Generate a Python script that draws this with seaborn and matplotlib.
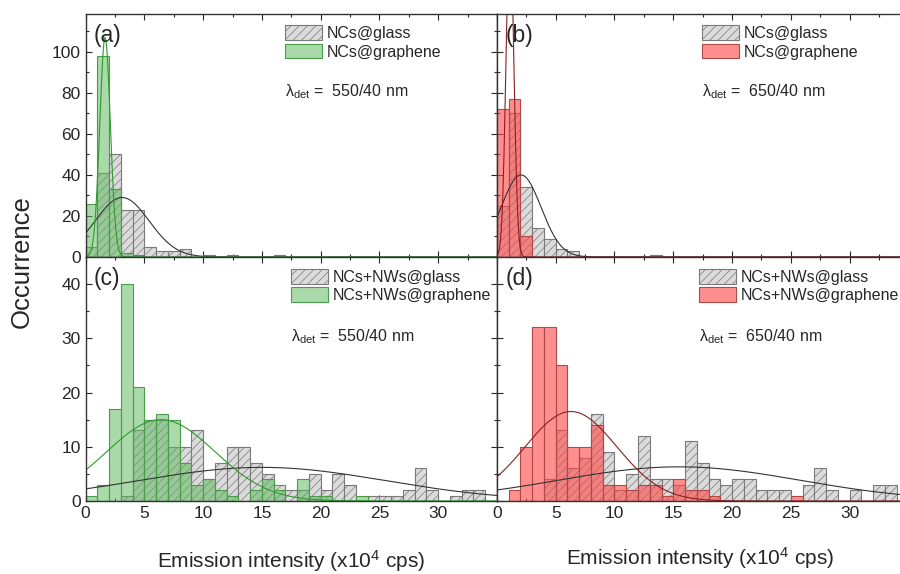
import numpy as np
import pandas as pd
import seaborn as sns
import matplotlib.pyplot as plt
from matplotlib.patches import Patch
from matplotlib.ticker import MultipleLocator

# bin counts, bins of width 1 (x10^4 cps) starting at 0
a_glass = [5, 41, 50, 23, 23, 5, 3, 3, 4, 0, 1, 0, 1, 0, 0, 0, 1]
a_graphene = [26, 98, 33, 2, 1]
b_glass = [25, 70, 34, 14, 9, 4, 3, 0, 0, 0, 0, 0, 0, 1]
b_graphene = [72, 77, 10]
c_glass = [0, 0, 0, 1, 13, 15, 15, 10, 10, 13, 4, 7, 10, 10, 7, 5, 3, 2, 2, 5,
           2, 5, 3, 0, 1, 1, 1, 2, 6, 2, 0, 1, 2, 2]
c_graphene = [1, 3, 17, 40, 21, 15, 16, 15, 7, 3, 4, 2, 1, 0, 2, 4, 2, 0, 4, 1,
              1, 0, 0, 1]
d_glass = [0, 0, 0, 0, 4, 13, 6, 8, 16, 9, 2, 5, 12, 4, 4, 3, 11, 7, 4, 3,
           4, 4, 2, 2, 2, 0, 3, 6, 2, 0, 2, 0, 3, 3]
d_graphene = [0, 2, 10, 32, 32, 25, 10, 10, 14, 3, 3, 2, 3, 3, 1, 4, 2, 2, 1, 0,
              0, 0, 0, 0, 0, 1]

# gaussian fit parameters: (amplitude, centre, sigma)
a_fit_glass = (29, 3.1, 2.3)
a_fit_graphene = (107, 1.65, 0.45)
b_fit_glass = (40, 2.05, 1.7)
b_fit_graphene = (160, 1.1, 0.33)
c_fit_glass = (6.2, 15.0, 10.5)
c_fit_graphene = (15, 6.4, 4.6)
d_fit_glass = (6.3, 15.5, 10.3)
d_fit_graphene = (16.5, 6.3, 3.9)

panel_labels = ['(a)', '(b)', '(c)', '(d)']
glass_names = ['NCs@glass', 'NCs@glass', 'NCs+NWs@glass', 'NCs+NWs@glass']
graphene_names = ['NCs@graphene', 'NCs@graphene', 'NCs+NWs@graphene', 'NCs+NWs@graphene']
detection = ['550/40 nm', '650/40 nm', '550/40 nm', '650/40 nm']

GREEN = (0.36, 0.72, 0.36, 0.52)
GREEN_EDGE = '#4a9c4a'
GREEN_LINE = '#2e9a2e'
RED = (1.0, 0.27, 0.27, 0.6)
RED_EDGE = '#b04848'
RED_LINE = '#8b1f1f'
GRAY = (0.86, 0.86, 0.86, 1.0)
GRAY_EDGE = '#7a7a7a'

sns.set_style('ticks')
plt.rcParams['font.family'] = ['Liberation Sans', 'DejaVu Sans']
plt.rcParams['mathtext.fontset'] = 'custom'
plt.rcParams['mathtext.rm'] = 'Liberation Sans'
plt.rcParams['mathtext.it'] = 'Liberation Sans'
plt.rcParams['hatch.linewidth'] = 0.5


def draw_hist(ax, counts, face, edge, hatch=None):
    counts = np.array(counts, dtype=float)
    df = pd.DataFrame({'x': np.arange(len(counts)) + 0.5, 'w': counts})
    sns.histplot(data=df, x='x', weights='w', binwidth=1,
                 binrange=(0, len(counts)), ax=ax, stat='count',
                 facecolor=face, edgecolor=edge, hatch=hatch, linewidth=0.8)


def draw_fit(ax, params, color):
    amp, mu, sig = params
    xs = np.linspace(0, 35, 700)
    ys = amp * np.exp(-(xs - mu) ** 2 / (2 * sig ** 2))
    sns.lineplot(x=xs, y=ys, ax=ax, color=color, linewidth=0.8)


fig = plt.figure(figsize=(9, 5.74), dpi=100)
positions = [
    [0.0952, 0.5523, 0.457, 0.4233],
    [0.5522, 0.5523, 0.457, 0.4233],
    [0.0952, 0.1272, 0.457, 0.4251],
    [0.5522, 0.1272, 0.457, 0.4251],
]
glass_data = [a_glass, b_glass, c_glass, d_glass]
graphene_data = [a_graphene, b_graphene, c_graphene, d_graphene]
glass_fits = [a_fit_glass, b_fit_glass, c_fit_glass, d_fit_glass]
graphene_fits = [a_fit_graphene, b_fit_graphene, c_fit_graphene, d_fit_graphene]
legend_x = [0.485, 0.499, 0.50, 0.492]
legend_y = [0.953, 0.953, 0.95, 0.95]
lambda_y = [0.68, 0.68, 0.672, 0.672]

for i in range(4):
    ax = fig.add_axes(positions[i])
    is_red = i % 2 == 1
    face = RED if is_red else GREEN
    edge = RED_EDGE if is_red else GREEN_EDGE
    line = RED_LINE if is_red else GREEN_LINE

    draw_hist(ax, glass_data[i], GRAY, GRAY_EDGE, hatch='////')
    draw_hist(ax, graphene_data[i], face, edge)
    draw_fit(ax, glass_fits[i], '#333333')
    draw_fit(ax, graphene_fits[i], line)

    ax.set_xlim(0, 35)
    if i < 2:
        ax.set_ylim(0, 118.5)
        ax.yaxis.set_major_locator(MultipleLocator(20))
        ax.yaxis.set_minor_locator(MultipleLocator(10))
    else:
        ax.set_ylim(0, 45)
        ax.yaxis.set_major_locator(MultipleLocator(10))
        ax.yaxis.set_minor_locator(MultipleLocator(5))
    ax.xaxis.set_major_locator(MultipleLocator(5))
    ax.xaxis.set_minor_locator(MultipleLocator(2.5))
    ax.tick_params(which='both', direction='in', top=True, right=True,
                   labelsize=12.5, width=0.8)
    ax.tick_params(which='major', length=4)
    ax.tick_params(which='minor', length=2.5)
    ax.set_xlabel('')
    ax.set_ylabel('')
    if i < 2:
        ax.set_xticklabels([])
    else:
        ax.set_xticks([0, 5, 10, 15, 20, 25, 30])
    if is_red:
        ax.set_yticklabels([])
    for s in ax.spines.values():
        s.set_linewidth(1.0)
        s.set_color('#333333')

    ax.text(0.02, 0.96, panel_labels[i], transform=ax.transAxes,
            fontsize=16.5, va='top', ha='left')

    handles = [
        Patch(facecolor=GRAY, edgecolor=GRAY_EDGE, hatch='////', linewidth=0.8),
        Patch(facecolor=face, edgecolor=edge, linewidth=0.8),
    ]
    lx = legend_x[i]
    ax.legend(handles, [glass_names[i], graphene_names[i]], loc='upper left',
              bbox_to_anchor=(lx, legend_y[i]), frameon=False, fontsize=11.5,
              handlelength=2.3, handleheight=1.05, handletextpad=0.3,
              labelspacing=0.15, borderaxespad=0.0, borderpad=0.0)
    ax.text(lx, lambda_y[i], r'$\mathrm{\lambda}_{\mathrm{det}}$ =  ' + detection[i],
            transform=ax.transAxes, fontsize=11.5, va='center', ha='left')

fig.text(0.024, 0.544, 'Occurrence', rotation=90, fontsize=18.5,
         ha='center', va='center')
fig.text(0.323, 0.022, r'Emission intensity (x10$^4$ cps)', fontsize=15,
         ha='center', va='center')
fig.text(0.778, 0.028, r'Emission intensity (x10$^4$ cps)', fontsize=15,
         ha='center', va='center')

fig.savefig('out.png', dpi=100)
